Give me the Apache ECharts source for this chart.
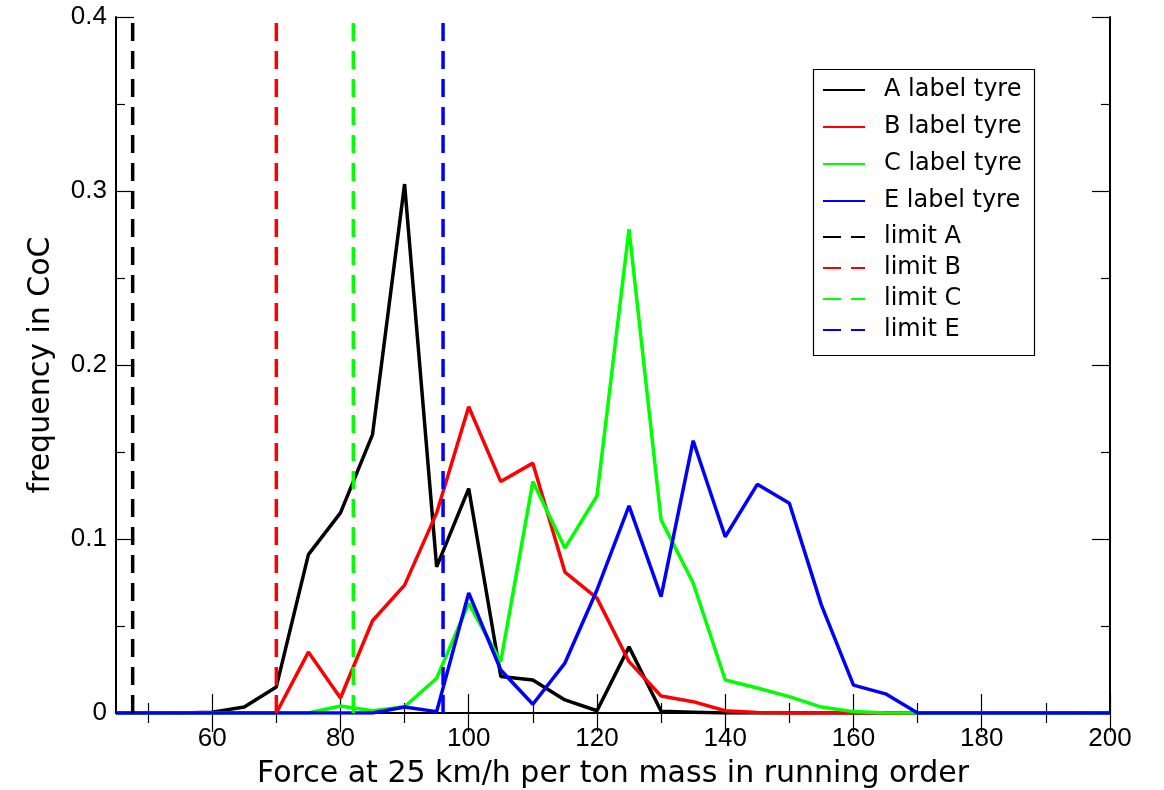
<!DOCTYPE html>
<html lang="en">
<head>
    <meta charset="UTF-8">
    <script src="https://cdn.jsdelivr.net/npm/echarts@6/dist/echarts.min.js"></script>
    <title>CoC frequency</title>
</head>
<body style="margin:0">
    <div id="main" style="width:1164px;height:790px;"></div>
    <script type="text/javascript">
        // force bins (x)
        var forceBins = [45, 50, 55, 60, 65, 70, 75, 80, 85, 90, 95, 100, 105, 110, 115, 120,
                         125, 130, 135, 140, 145, 150, 155, 160, 165, 170, 175, 180, 185, 190, 195, 200];
        // frequency per label class
        var freqA = [0, 0, 0, 0.0005, 0.0035, 0.015, 0.091, 0.115, 0.16, 0.304, 0.084, 0.129, 0.021, 0.019, 0.0075, 0.0013,
                     0.038, 0.001, 0.0005, 0, 0, 0, 0, 0, 0, 0, 0, 0, 0, 0, 0, 0];
        var freqB = [0, 0, 0, 0, 0, 0, 0.035, 0.0086, 0.053, 0.0735, 0.115, 0.176, 0.133, 0.1436, 0.081, 0.066,
                     0.0295, 0.0098, 0.0065, 0.0013, 0.0003, 0, 0, 0, 0, 0, 0, 0, 0, 0, 0, 0];
        var freqC = [0, 0, 0, 0, 0, 0, 0, 0.004, 0.0013, 0.0036, 0.02, 0.063, 0.0295, 0.133, 0.0948, 0.1247,
                     0.278, 0.111, 0.0747, 0.019, 0.0144, 0.0094, 0.0034, 0.0008, 0, 0, 0, 0, 0, 0, 0, 0];
        var freqE = [0, 0, 0, 0, 0, 0, 0, 0, 0, 0.0035, 0.0008, 0.069, 0.0247, 0.005, 0.0287, 0.0707,
                     0.119, 0.0669, 0.1565, 0.1013, 0.1314, 0.1205, 0.062, 0.016, 0.011, 0, 0, 0, 0, 0, 0, 0];
        // limit values
        var limitA = 47.6, limitB = 70, limitC = 82, limitE = 96;

        var curveNames = ['A label tyre', 'B label tyre', 'C label tyre', 'E label tyre'];
        var limitNames = ['limit A', 'limit B', 'limit C', 'limit E'];
        var colors = ['#000000', '#ff0000', '#00ff00', '#0000ff'];

        // axis ticks / labels
        var xMin = 45, xMax = 200, yMin = 0, yMax = 0.4;
        var xMajor = [60, 80, 100, 120, 140, 160, 180, 200];
        var xMinor = [50, 70, 90, 110, 130, 150, 170, 190];
        var yMajor = [0, 0.1, 0.2, 0.3, 0.4];
        var yMinor = [0.05, 0.15, 0.25, 0.35];

        var chart = echarts.init(document.getElementById('main'));

        var numFont = 'Liberation Sans, Arial, sans-serif';
        var textFont = 'DejaVu Sans, sans-serif';

        function pairs(vals) {
            return forceBins.map(function (x, i) { return [x, vals[i]]; });
        }

        function xAxisCfg(gridIndex, pos, ticks, len, withLabels) {
            var a = {
                type: 'value', gridIndex: gridIndex, position: pos, min: xMin, max: xMax,
                axisLine: { show: gridIndex === 0, lineStyle: { color: '#000', width: 2 } },
                axisTick: { show: true, inside: true, length: len, customValues: ticks,
                            lineStyle: { color: '#000', width: 1.2 } },
                axisLabel: { show: withLabels },
                splitLine: { show: false }
            };
            if (withLabels) {
                a.axisLabel = { show: true, customValues: xMajor, margin: 13, color: '#000',
                                fontSize: 26, fontFamily: numFont };
                a.name = 'Force at 25 km/h per ton mass in running order';
                a.nameLocation = 'middle';
                a.nameGap = 46;
                a.nameTextStyle = { color: '#000', fontSize: 30, fontFamily: textFont };
            }
            return a;
        }

        function yAxisCfg(gridIndex, pos, ticks, len, withLabels) {
            var a = {
                type: 'value', gridIndex: gridIndex, position: pos, min: yMin, max: yMax,
                axisLine: { show: gridIndex === 0, lineStyle: { color: '#000', width: 2 } },
                axisTick: { show: true, inside: true, length: len, customValues: ticks,
                            lineStyle: { color: '#000', width: 1.2 } },
                axisLabel: { show: false },
                splitLine: { show: false }
            };
            if (withLabels) {
                a.axisLabel = { show: true, customValues: yMajor, margin: 9, color: '#000',
                                fontSize: 26, fontFamily: numFont };
                a.name = 'frequency in CoC';
                a.nameLocation = 'middle';
                a.nameGap = 60;
                a.nameTextStyle = { color: '#000', fontSize: 30, fontFamily: textFont };
            }
            return a;
        }

        var series = [];
        [freqA, freqB, freqC, freqE].forEach(function (vals, i) {
            series.push({
                name: curveNames[i], type: 'line', data: pairs(vals),
                symbol: 'none', xAxisIndex: 0, yAxisIndex: 0,
                lineStyle: { color: colors[i], width: 3.5 },
                itemStyle: { color: colors[i], opacity: 0 }
            });
        });
        [limitA, limitB, limitC, limitE].forEach(function (lim, i) {
            series.push({
                name: limitNames[i], type: 'line', data: [[lim, yMin], [lim, yMax]],
                symbol: 'none', xAxisIndex: 0, yAxisIndex: 0,
                lineStyle: { color: colors[i], width: 3.5, type: [18, 10] },
                itemStyle: { color: colors[i], opacity: 0 }
            });
        });

        var legendText = { color: '#000', fontSize: 24, fontFamily: textFont, padding: [0, 0, 0, 14] };

        var option = {
            animation: false,
            backgroundColor: '#fff',
            grid: [
                { left: 116, right: 54, top: 17, bottom: 77, outerBoundsMode: 'none' },
                { left: 116, right: 54, top: 17, bottom: 77, outerBoundsMode: 'none' }
            ],
            xAxis: [
                xAxisCfg(0, 'bottom', xMajor, 19, true),
                xAxisCfg(0, 'top', xMajor, 19, false),
                xAxisCfg(1, 'bottom', xMinor, 10, false),
                xAxisCfg(1, 'top', xMinor, 10, false)
            ],
            yAxis: [
                yAxisCfg(0, 'left', yMajor, 18, true),
                yAxisCfg(0, 'right', yMajor, 18, false),
                yAxisCfg(1, 'left', yMinor, 9, false),
                yAxisCfg(1, 'right', yMinor, 9, false)
            ],
            legend: [
                { data: curveNames, orient: 'vertical', left: 822, top: 78, padding: 0,
                  itemWidth: 42, itemHeight: 14, itemGap: 13, textStyle: legendText,
                  itemStyle: { opacity: 0 } },
                { data: limitNames, orient: 'vertical', left: 822, top: 225, padding: 0,
                  itemWidth: 42, itemHeight: 14, itemGap: 7, textStyle: legendText,
                  itemStyle: { opacity: 0 } }
            ],
            graphic: [
                { type: 'rect', left: 811, top: 67, shape: { width: 221, height: 286 },
                  style: { fill: 'none', stroke: '#000', lineWidth: 1.2 } }
            ],
            series: series
        };
        chart.setOption(option);
    </script>
</body>
</html>
